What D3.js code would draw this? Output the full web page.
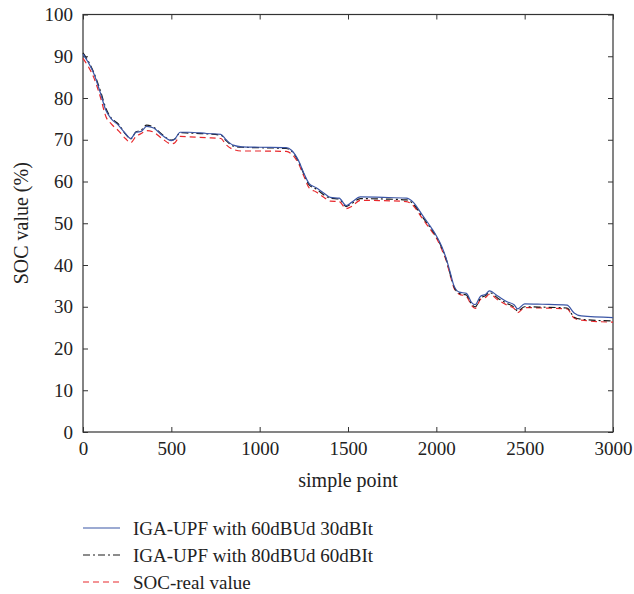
<!DOCTYPE html>
<html lang="en">
<head>
<meta charset="utf-8">
<style>
  body { margin: 0; background: #fff; }
  text { font-family: "Liberation Serif", "DejaVu Serif", serif; fill: #222; }
  .domain { stroke: none; }
  .tick line { stroke: #333; }
</style>
</head>
<body>
<div id="chart"></div>
<script src="https://d3js.org/d3.v7.min.js"></script>
<script>
// sample index along the x axis
var samples = [0,30,60,100,130,160,200,240,270,300,330,360,400,450,500,520,550,600,700,780,
  810,850,900,1000,1150,1180,1220,1250,1280,1320,1370,1400,1450,1490,1520,1570,1700,1830,1870,1920,
  1970,2000,2030,2060,2080,2100,2130,2170,2200,2220,2250,2280,2300,2350,2400,2440,2460,2500,2600,2740,
  2780,2820,3000];

// IGA-UPF with 60dBUd 30dBIt
var upf60 = [90.5,88.5,86,81,77,75,73.5,71.5,70.3,71.8,72,73.2,72.8,71,69.8,70.2,71.8,71.8,71.5,71.3,
  70,68.7,68.3,68.2,68.1,67.5,65,62,59.5,58.5,57,56.2,56,54.2,55,56.3,56.2,56,55,52,
  49,47,44.5,41,38,35,33.5,33.2,31,30.5,32.5,33,33.8,32.5,31.2,30.5,29.5,30.7,30.6,30.4,
  28.5,27.8,27.4];

// IGA-UPF with 80dBUd 60dBIt
var upf80 = [90.8,88.8,86.2,81.5,77.5,75.2,73.8,71.4,70.2,71.9,72.3,73.5,73,71.2,69.9,70.2,71.7,71.6,71.4,71.1,
  69.8,68.5,68.2,68.1,67.9,67.3,64.8,61.8,59.2,58.2,56.6,56,55.8,54,54.7,55.9,55.8,55.6,54.6,51.6,
  48.7,46.8,44.2,40.8,37.6,34.8,33.2,32.8,30.6,30,32,32.7,33.4,32,30.8,29.9,29,30,29.9,29.7,
  27.5,27,26.6];

// SOC-real value
var socReal = [89.5,87.5,85,80,75.5,73.8,72.2,70.3,69.3,70.8,71.5,72.2,71.8,70.2,69,69.3,70.8,70.7,70.5,70.3,
  68.8,67.7,67.3,67.3,67.2,66.6,64.3,61.3,58.5,57.5,56,55.3,55.2,53.5,54,55.5,55.4,55.2,54.2,51.2,
  48.3,46.5,43.8,40.5,37.3,34.5,33,32.5,30.3,29.6,31.8,32.3,33,31.6,30.4,29.6,28.6,29.8,29.7,29.5,
  27.3,26.8,26.3];

var xTicks = [0,500,1000,1500,2000,2500,3000];
var yTicks = [0,10,20,30,40,50,60,70,80,90,100];

var series = [
  { name: "IGA-UPF with 60dBUd 30dBIt", values: upf60, color: "#3b56a6", dash: null },
  { name: "IGA-UPF with 80dBUd 60dBIt", values: upf80, color: "#1a1a1a", dash: "7,3,2,3" },
  { name: "SOC-real value", values: socReal, color: "#e8282c", dash: "6,4" }
];

var margin = { top: 14.5, left: 83 },
    width = 530,
    height = 417.5;

var svg = d3.select("#chart").append("svg")
    .attr("width", 634)
    .attr("height", 594)
    .style("display", "block");

var g = svg.append("g")
    .attr("transform", "translate(" + margin.left + "," + margin.top + ")");

var x = d3.scaleLinear().domain([0, 3000]).range([0, width]);
var y = d3.scaleLinear().domain([0, 100]).range([height, 0]);

// axes with inward ticks
g.append("g")
    .attr("transform", "translate(0," + height + ")")
    .call(d3.axisBottom(x).tickValues(xTicks).tickFormat(d3.format("d"))
      .tickSizeInner(-5).tickSizeOuter(0).tickPadding(10))
    .selectAll("text").style("font-size", "19px");

g.append("g")
    .call(d3.axisLeft(y).tickValues(yTicks).tickFormat(d3.format("d"))
      .tickSizeInner(-5).tickSizeOuter(0).tickPadding(10))
    .selectAll("text").style("font-size", "19px");

g.append("g")
    .call(d3.axisTop(x).tickValues(xTicks).tickSizeInner(-5).tickSizeOuter(0).tickFormat(""));

g.append("g")
    .attr("transform", "translate(" + width + ",0)")
    .call(d3.axisRight(y).tickValues(yTicks).tickSizeInner(-5).tickSizeOuter(0).tickFormat(""));

g.append("rect")
    .attr("width", width)
    .attr("height", height)
    .attr("fill", "none")
    .attr("stroke", "#333")
    .attr("stroke-width", 1.2);

var line = d3.line()
    .x(function (d, i) { return x(samples[i]); })
    .y(function (d) { return y(d); })
    .curve(d3.curveMonotoneX);

// draw real value first, estimates on top
[series[2], series[1], series[0]].forEach(function (s) {
  g.append("path")
      .attr("d", line(s.values))
      .attr("fill", "none")
      .attr("stroke", s.color)
      .attr("stroke-width", 1.2)
      .attr("stroke-dasharray", s.dash);
});

// axis titles
svg.append("text")
    .attr("x", margin.left + width / 2)
    .attr("y", 487)
    .attr("text-anchor", "middle")
    .style("font-size", "20px")
    .text("simple point");

svg.append("text")
    .attr("transform", "translate(28," + (margin.top + height / 2) + ") rotate(-90)")
    .attr("text-anchor", "middle")
    .style("font-size", "20px")
    .text("SOC value (%)");

// legend
var legend = svg.append("g");
series.forEach(function (s, i) {
  var ly = 528 + i * 27;
  legend.append("line")
      .attr("x1", 83).attr("x2", 120)
      .attr("y1", ly).attr("y2", ly)
      .attr("stroke", s.color)
      .attr("stroke-width", 1.2)
      .attr("stroke-dasharray", s.dash);
  legend.append("text")
      .attr("x", 133)
      .attr("y", ly + 6.5)
      .style("font-size", "19px")
      .text(s.name);
});
</script>
</body>
</html>
